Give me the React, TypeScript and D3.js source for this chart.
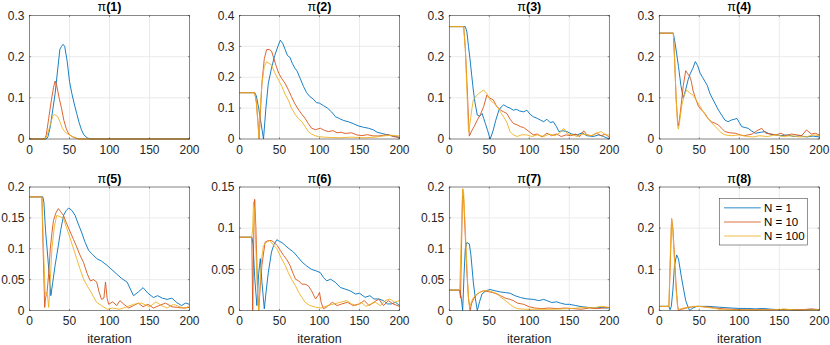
import React from "react";
import * as d3 from "d3";

// values, [iteration, probability]
const p1N1 = [[0,0],[21,0],[23,0.005],[26,0.03],[29,0.07],[32,0.11],[35,0.165],[38,0.218],[40,0.225],[42,0.23],[44,0.225],[47,0.19],[50,0.14],[53,0.11],[56,0.085],[59,0.062],[62,0.04],[65,0.022],[68,0.01],[72,0.003],[76,0],[200,0]];
const p1N10 = [[0,0],[19,0],[21,0.01],[24,0.05],[27,0.09],[30,0.125],[32,0.141],[34,0.13],[37,0.1],[40,0.075],[43,0.045],[46,0.025],[49,0.012],[53,0.006],[58,0.002],[62,0],[200,0]];
const p1N100 = [[0,0],[20,0],[23,0.015],[26,0.035],[29,0.055],[31,0.06],[33,0.057],[35,0.055],[38,0.042],[41,0.027],[44,0.018],[47,0.013],[51,0.009],[55,0.005],[60,0.001],[63,0],[200,0]];

const p2N1 = [[0,0.15],[19,0.15],[21,0.14],[24,0.1],[27,0.05],[30,0],[33,0.1],[36,0.18],[40,0.23],[44,0.27],[48,0.3],[51,0.32],[54,0.31],[57,0.29],[60,0.27],[63,0.265],[66,0.245],[69,0.23],[72,0.22],[76,0.195],[80,0.17],[84,0.15],[88,0.137],[92,0.13],[96,0.118],[100,0.116],[105,0.108],[110,0.1],[115,0.088],[120,0.072],[125,0.066],[130,0.06],[136,0.056],[142,0.05],[149,0.042],[155,0.038],[161,0.035],[167,0.03],[172,0.022],[178,0.018],[184,0.014],[190,0.011],[195,0.008],[200,0.005]];
const p2N10 = [[0,0.15],[19,0.15],[21,0.12],[23,0.06],[24.5,0],[26,0.08],[28,0.18],[31,0.26],[34,0.29],[37,0.29],[40,0.285],[43,0.26],[46,0.235],[49,0.213],[53,0.195],[57,0.18],[61,0.16],[65,0.137],[69,0.115],[74,0.094],[78,0.08],[82,0.067],[86,0.05],[90,0.035],[95,0.03],[101,0.035],[106,0.028],[111,0.024],[117,0.027],[122,0.02],[127,0.022],[132,0.018],[140,0.02],[147,0.013],[153,0.011],[160,0.014],[167,0.01],[174,0.01],[180,0.012],[186,0.014],[192,0.008],[200,0.005]];
const p2N100 = [[0,0.15],[19,0.15],[21,0.12],[23,0.05],[24.5,0],[26,0.1],[28,0.18],[31,0.235],[34,0.25],[37,0.245],[40,0.24],[44,0.215],[49,0.19],[53,0.17],[57,0.145],[61,0.126],[65,0.1],[70,0.078],[74,0.065],[78,0.056],[82,0.04],[86,0.024],[90,0.016],[95,0.01],[99,0.008],[105,0.006],[115,0.005],[125,0.004],[140,0.006],[155,0.004],[170,0.006],[180,0.01],[190,0.012],[200,0.01]];

const p3N1 = [[0,0.273],[20,0.273],[22,0.26],[24,0.225],[26,0.192],[28,0.155],[30,0.119],[32,0.09],[35,0.058],[38,0.055],[41,0.062],[43,0.05],[45,0.038],[48,0.02],[51,0],[53,0.01],[55,0.022],[58,0.045],[62,0.07],[65,0.078],[68,0.083],[72,0.078],[76,0.075],[80,0.07],[84,0.072],[88,0.068],[93,0.066],[97,0.07],[101,0.06],[105,0.054],[110,0.05],[114,0.046],[118,0.042],[122,0.048],[126,0.04],[130,0.042],[134,0.03],[137,0.018],[142,0.02],[147,0.018],[153,0.012],[160,0.01],[166,0.015],[172,0.008],[180,0.006],[187,0.01],[193,0.006],[200,0]];
const p3N10 = [[0,0.273],[18,0.273],[20,0.22],[22,0.14],[24,0.05],[25,0.007],[28,0.02],[31,0.03],[35,0.046],[39,0.06],[43,0.079],[47,0.107],[50,0.1],[55,0.095],[59,0.08],[64,0.07],[68,0.066],[72,0.062],[76,0.048],[80,0.038],[85,0.034],[89,0.03],[93,0.028],[97,0.022],[101,0.016],[105,0.01],[110,0.012],[116,0.005],[122,0.014],[128,0.008],[134,0.012],[140,0.006],[146,0.01],[152,0.008],[158,0.012],[163,0.006],[168,0.02],[172,0.01],[178,0.008],[184,0.014],[190,0.008],[195,0.012],[200,0.004]];
const p3N100 = [[0,0.273],[18,0.273],[20,0.22],[22,0.12],[24,0.018],[26,0.04],[28,0.07],[30,0.095],[34,0.105],[37,0.111],[40,0.115],[43,0.119],[47,0.11],[51,0.095],[55,0.088],[60,0.079],[64,0.065],[68,0.054],[72,0.04],[76,0.018],[80,0.01],[85,0.006],[90,0.01],[97,0.01],[103,0.006],[110,0.01],[118,0.006],[125,0.012],[132,0.008],[138,0.015],[143,0.026],[148,0.012],[154,0.01],[160,0.006],[166,0.012],[172,0.01],[178,0.008],[184,0.014],[190,0.018],[195,0.01],[200,0.01]];

const p4N1 = [[0,0.257],[17.5,0.257],[20,0.23],[24,0.176],[27,0.13],[30,0.099],[33,0.12],[36,0.144],[39,0.16],[42,0.172],[45,0.188],[48,0.178],[51,0.16],[54,0.15],[57,0.14],[60,0.13],[63,0.112],[66,0.1],[70,0.085],[74,0.07],[78,0.058],[82,0.046],[86,0.042],[90,0.046],[94,0.048],[97,0.05],[100,0.04],[103,0.03],[107,0.028],[111,0.026],[115,0.02],[120,0.014],[126,0.016],[132,0.018],[138,0.012],[145,0.01],[152,0.008],[160,0.01],[168,0.006],[176,0.008],[184,0.005],[192,0.007],[200,0.005]];
const p4N10 = [[0,0.257],[17.5,0.257],[19,0.2],[21,0.1],[23,0.04],[24,0.032],[26,0.06],[28,0.095],[30,0.13],[33,0.166],[35,0.16],[38,0.152],[40,0.14],[42,0.119],[45,0.1],[49,0.079],[53,0.07],[57,0.062],[61,0.05],[65,0.042],[70,0.038],[74,0.034],[78,0.026],[82,0.018],[88,0.015],[95,0.014],[101,0.01],[106,0.008],[111,0.01],[116,0.012],[122,0.02],[128,0.026],[133,0.014],[140,0.012],[146,0.01],[152,0.014],[158,0.008],[165,0.012],[172,0.01],[178,0.008],[184,0.022],[190,0.012],[195,0.014],[200,0.01]];
const p4N100 = [[0,0.257],[17.5,0.257],[19,0.2],[21,0.1],[23,0.03],[24,0.024],[26,0.05],[28,0.08],[31,0.105],[34,0.119],[38,0.112],[42,0.107],[46,0.095],[51,0.079],[55,0.066],[59,0.054],[64,0.042],[70,0.03],[75,0.02],[78,0.014],[82,0.01],[90,0.008],[100,0.01],[110,0.006],[118,0.005],[125,0.008],[135,0.006],[145,0.01],[155,0.006],[165,0.008],[175,0.005],[185,0.006],[193,0.01],[200,0.008]];

const p5N1 = [[0,0.184],[16.7,0.184],[18,0.175],[20,0.13],[22,0.1],[24.5,0.06],[26.7,0.024],[29,0.045],[32,0.073],[36,0.105],[39,0.13],[42.5,0.154],[46,0.162],[49,0.166],[53,0.162],[57,0.154],[61,0.14],[65,0.127],[69,0.112],[74,0.097],[78,0.092],[84,0.084],[90,0.08],[97,0.073],[103,0.066],[109,0.059],[115,0.052],[122,0.046],[126,0.035],[130,0.024],[136,0.03],[142,0.037],[148,0.028],[155,0.021],[160,0.024],[166,0.02],[172,0.018],[178,0.02],[184,0.013],[190,0.008],[195,0.012],[200,0.01]];
const p5N10 = [[0,0.184],[15.5,0.184],[17,0.1],[19,0.005],[20,0.02],[22,0.03],[24,0.06],[26,0.1],[28,0.125],[30,0.146],[33,0.158],[36,0.165],[39,0.16],[42.5,0.154],[46,0.142],[51,0.127],[55,0.115],[59,0.103],[63,0.09],[67.5,0.078],[72,0.06],[76,0.048],[80,0.05],[84,0.046],[87,0.03],[90,0.018],[93,0.02],[95,0.046],[97,0.02],[99,0.01],[104,0.014],[109,0.008],[113,0.016],[118,0.01],[124,0.004],[130,0.008],[136,0.012],[142,0.006],[148,0.01],[155,0.004],[162,0.008],[170,0.012],[178,0.006],[185,0.005],[192,0.004],[200,0.005]];
const p5N100 = [[0,0.184],[15.5,0.184],[17.5,0.1],[19.5,0.03],[21,0.025],[22,0.03],[24,0.005],[26,0.05],[28,0.1],[31,0.135],[34,0.154],[38,0.152],[42.5,0.149],[46,0.135],[51,0.116],[55,0.1],[59,0.084],[63,0.068],[67.5,0.051],[72,0.04],[76,0.032],[80,0.022],[84,0.013],[90,0.008],[97,0.002],[104,0.004],[112,0.002],[120,0.005],[130,0.01],[140,0.012],[150,0.006],[158,0.014],[165,0.008],[172,0.004],[180,0.01],[188,0.006],[194,0.003],[200,0.008]];

const p6N1 = [[0,0.089],[15.4,0.089],[17,0.08],[19,0.04],[21.7,0.006],[24,0.045],[26,0.063],[28,0.035],[31,0.002],[33.5,0.025],[36,0.046],[40,0.071],[43,0.08],[46.7,0.086],[50,0.084],[54,0.082],[57,0.079],[62,0.075],[67.5,0.071],[72,0.066],[78,0.059],[84,0.054],[90,0.05],[96,0.048],[101,0.046],[105,0.04],[109,0.036],[114,0.038],[120,0.034],[126,0.028],[132,0.026],[138,0.024],[145,0.02],[150,0.021],[157,0.016],[163,0.018],[168,0.014],[174,0.014],[180,0.012],[185,0.008],[190,0.008],[195,0.01],[200,0.006]];
const p6N10 = [[0,0.089],[15.4,0.089],[16.5,0],[18,0.1],[19,0.135],[20.5,0.1],[22.5,0.03],[24,0],[26,0.03],[28,0.055],[32,0.083],[36,0.085],[40,0.085],[44,0.082],[47,0.079],[51,0.073],[55,0.067],[59,0.062],[63,0.055],[67,0.045],[70,0.038],[74,0.036],[78,0.032],[82,0.032],[86,0.03],[90,0.024],[95,0.014],[98,0.018],[100,0.022],[102,0.01],[105,0.002],[110,0.005],[116,0.01],[122,0.006],[128,0.008],[135,0.01],[142,0.006],[150,0.008],[156,0.012],[162,0.006],[168,0.01],[174,0.014],[180,0.006],[186,0.012],[192,0.008],[200,0.005]];
const p6N100 = [[0,0.089],[15.4,0.089],[16.5,0.1],[17.5,0.132],[19,0.12],[21,0.06],[23,0.01],[24,0],[26,0.04],[28,0.065],[30,0.079],[34,0.083],[38,0.085],[42,0.08],[46.7,0.075],[51,0.066],[57,0.055],[61,0.046],[65,0.038],[70,0.03],[74,0.022],[78,0.016],[82,0.01],[88,0.006],[95,0.004],[102,0.003],[110,0.006],[118,0.008],[126,0.01],[134,0.012],[140,0.008],[146,0.006],[152,0.01],[158,0.005],[164,0.008],[170,0.01],[176,0.006],[182,0.012],[188,0.014],[194,0.01],[200,0.012]];

const p7N1 = [[0,0.033],[13,0.033],[15,0.02],[16.7,0],[18.5,0.06],[20,0.1],[22,0.11],[25,0.108],[27,0.09],[30,0.046],[32.5,0.02],[35,0],[38,0.015],[41,0.027],[46,0.032],[51,0.034],[57,0.032],[64,0.03],[70,0.029],[76,0.028],[82,0.024],[89,0.021],[96,0.019],[105,0.018],[112,0.016],[118,0.018],[122,0.016],[128,0.013],[134,0.014],[139,0.012],[145,0.01],[150,0.01],[158,0.008],[166,0.006],[174,0.005],[182,0.004],[190,0.005],[195,0.004],[200,0.004]];
const p7N10 = [[0,0.033],[13,0.033],[14,0.02],[15.2,0.1],[16.7,0.197],[18,0.18],[20,0.12],[22,0.06],[24,0.02],[26,0],[28,0.012],[31,0.02],[35,0.027],[39,0.03],[43,0.032],[51,0.03],[57,0.028],[64,0.024],[70,0.02],[76,0.018],[80,0.016],[85,0.012],[93,0.01],[100,0.006],[107,0.004],[115,0.003],[125,0.004],[135,0.003],[145,0.004],[155,0.003],[165,0.002],[175,0.004],[185,0.003],[192,0.004],[200,0.005]];
const p7N100 = [[0,0.033],[13,0.033],[14.5,0.1],[16.7,0.197],[18,0.19],[20,0.13],[22,0.07],[24,0.02],[25.4,0.005],[27,0.012],[30,0.021],[34,0.026],[39,0.03],[44,0.032],[49,0.032],[54,0.03],[60,0.027],[64,0.022],[68,0.018],[72,0.014],[76,0.01],[80,0.006],[85,0.003],[95,0.002],[110,0.002],[130,0.002],[150,0.003],[160,0.004],[170,0.005],[180,0.004],[190,0.007],[200,0.005]];

const p8N1 = [[0,0.01],[12,0.01],[13.5,0.002],[15,0.01],[17,0.05],[19,0.11],[21.7,0.135],[24,0.125],[28,0.077],[31,0.045],[33,0.024],[36,0.008],[38,0],[42,0.006],[46.7,0.01],[53,0.01],[61,0.01],[68,0.009],[75,0.008],[82,0.007],[90,0.006],[100,0.005],[110,0.005],[120,0.004],[130,0.005],[140,0.003],[150,0.002],[160,0.002],[170,0.001],[180,0.002],[190,0.002],[200,0.002]];
const p8N10 = [[0,0.01],[12,0.01],[13.5,0.1],[15.4,0.223],[17,0.2],[19,0.13],[21,0.06],[23,0.01],[24,0],[28,0.003],[32,0.005],[36,0.007],[42,0.009],[49,0.01],[56,0.009],[63,0.008],[70,0.006],[80,0.004],[90,0.003],[100,0.002],[120,0.002],[140,0.002],[160,0.002],[180,0.002],[190,0.004],[200,0.002]];
const p8N100 = [[0,0.01],[12,0.01],[13.5,0.12],[15.4,0.223],[17,0.19],[19,0.12],[21,0.05],[23,0.005],[25,0.003],[30,0.006],[36,0.008],[42,0.01],[48,0.01],[55,0.009],[62,0.007],[70,0.005],[77,0.002],[90,0.001],[110,0.001],[130,0.001],[150,0.002],[155,0.004],[170,0.001],[190,0.001],[200,0.002]];

const seriesNames = ["N = 1", "N = 10", "N = 100"];
const panelSeries = [
  [p1N1, p1N10, p1N100],
  [p2N1, p2N10, p2N100],
  [p3N1, p3N10, p3N100],
  [p4N1, p4N10, p4N100],
  [p5N1, p5N10, p5N100],
  [p6N1, p6N10, p6N100],
  [p7N1, p7N10, p7N100],
  [p8N1, p8N10, p8N100],
];
const yMaxes = [0.3, 0.4, 0.3, 0.3, 0.2, 0.15, 0.2, 0.3];
const yTickSteps = [0.1, 0.1, 0.1, 0.1, 0.05, 0.05, 0.05, 0.1];
const xTicks = [0, 50, 100, 150, 200];

const colors = ["#0072BD", "#D95319", "#EDB120"];
const font = "'Liberation Sans', Arial, Helvetica, sans-serif";

// subplot geometry
const colLeft = [29.5, 239.5, 449.3, 659.3];
const rowTop = [15.5, 187];
const plotW = 160;
const plotH = 123.5;

const fmt = d3.format("~g");

function Panel({ idx }: { idx: number }) {
  const left = colLeft[idx % 4];
  const top = rowTop[Math.floor(idx / 4)];
  const bottomRow = idx >= 4;

  const x = d3.scaleLinear().domain([0, 200]).range([0, plotW]);
  const y = d3.scaleLinear().domain([0, yMaxes[idx]]).range([plotH, 0]);
  const yTicks = d3.range(0, yMaxes[idx] + 1e-9, yTickSteps[idx]);

  const line = d3.line<number[]>()
    .x(d => x(d[0]))
    .y(d => y(d[1]));

  return (
    <g transform={`translate(${left},${top})`}>
      {/* grid */}
      {xTicks.map(t => (
        <line key={"gx" + t} x1={x(t)} x2={x(t)} y1={0} y2={plotH} stroke="#e6e6e6" strokeWidth={0.8} />
      ))}
      {yTicks.map(t => (
        <line key={"gy" + t} x1={0} x2={plotW} y1={y(t)} y2={y(t)} stroke="#e6e6e6" strokeWidth={0.8} />
      ))}

      {panelSeries[idx].map((s, i) => (
        <path key={i} d={line(s) || ""} fill="none" stroke={colors[i]} strokeWidth={0.9} strokeLinejoin="round" />
      ))}

      {/* box + ticks */}
      <rect x={0} y={0} width={plotW} height={plotH} fill="none" stroke="#262626" strokeWidth={0.5} />
      {xTicks.map(t => (
        <g key={"tx" + t}>
          <line x1={x(t)} x2={x(t)} y1={plotH} y2={plotH - 1.6} stroke="#262626" strokeWidth={0.5} />
          <line x1={x(t)} x2={x(t)} y1={0} y2={1.6} stroke="#262626" strokeWidth={0.5} />
          <text x={x(t)} y={plotH + 14.5} textAnchor="middle" fontSize={12} fill="#262626" fontFamily={font}>{t}</text>
        </g>
      ))}
      {yTicks.map(t => (
        <g key={"ty" + t}>
          <line x1={0} x2={1.6} y1={y(t)} y2={y(t)} stroke="#262626" strokeWidth={0.5} />
          <line x1={plotW} x2={plotW - 1.6} y1={y(t)} y2={y(t)} stroke="#262626" strokeWidth={0.5} />
          <text x={-5} y={y(t)} dy="0.35em" textAnchor="end" fontSize={12} fill="#262626" fontFamily={font}>{fmt(t)}</text>
        </g>
      ))}

      <text x={plotW / 2} y={-4.5} textAnchor="middle" fontSize={12.5} fill="#000" fontFamily={font}>
        <tspan>π</tspan>
        <tspan fontWeight="bold">({idx + 1})</tspan>
      </text>

      {bottomRow && (
        <text x={plotW / 2} y={plotH + 32} textAnchor="middle" fontSize={12.5} fill="#262626" fontFamily={font}>iteration</text>
      )}

      {idx === 7 && (
        <g transform={`translate(${719.3 - left},${198.3 - top})`}>
          <rect x={0} y={0} width={88.4} height={46.7} fill="#fff" stroke="#262626" strokeWidth={0.5} />
          {seriesNames.map((n, i) => (
            <g key={n} transform={`translate(0,${9.4 + i * 14.2})`}>
              <line x1={4.7} x2={41.4} y1={0} y2={0} stroke={colors[i]} strokeWidth={1.5} strokeOpacity={0.55} />
              <text x={44.7} y={0} dy="0.36em" fontSize={11.5} fill="#000" fontFamily={font}>{n}</text>
            </g>
          ))}
        </g>
      )}
    </g>
  );
}

export default function App() {
  return (
    <svg width={830} height={345} style={{ position: "absolute", left: 0, top: 0, background: "#fff" }}>
      {panelSeries.map((_, i) => <Panel key={i} idx={i} />)}
    </svg>
  );
}
